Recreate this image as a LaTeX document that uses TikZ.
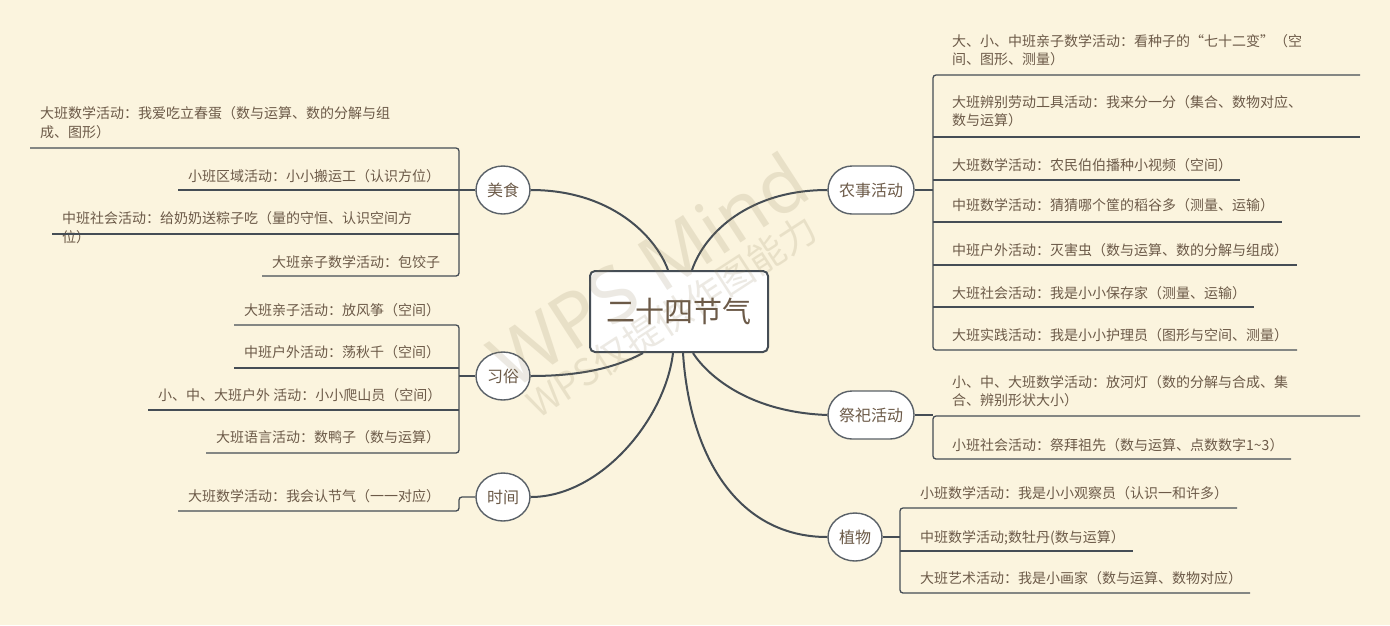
\documentclass[tikz,border=0pt]{standalone}
\usepackage{fontspec}
\setmainfont{Noto Sans CJK SC}
\newfontfamily\wmfont{Noto Sans}
\usetikzlibrary{shapes.geometric}
\definecolor{bg}{HTML}{FBF4DE}
\definecolor{ln}{HTML}{454D55}
\definecolor{tx}{HTML}{6C5A48}
\definecolor{bd}{HTML}{5A6168}
\definecolor{wm}{HTML}{8B7B55}
\begin{document}
\begin{tikzpicture}[x=1pt,y=-1pt,
 leaf/.style={anchor=base west, inner sep=0pt, text=tx, font=\fontsize{14}{19}\selectfont, align=left},
 rleaf/.style={leaf, font=\fontsize{14}{18}\selectfont},
 branch/.style={draw=ln, line width=1.3pt, rounded corners=3pt},
 curve/.style={draw=ln, line width=2pt},
 topic/.style={draw=bd, line width=1.4pt, fill=white, text=tx, font=\fontsize{16}{19}\selectfont, minimum height=48pt, inner sep=0pt},
 pill/.style={topic, rectangle, rounded corners=24pt, minimum width=86pt},
 oval/.style={topic, ellipse, minimum width=54pt},
 wmark/.style={rotate=33, anchor=base west, inner sep=0pt, text=wm, text opacity=0.16},
]
\fill[bg] (0,0) rectangle (1390,625);

% ---- central topic
\node[draw=ln, line width=2pt, fill=white, rounded corners=5pt, minimum width=178pt, minimum height=81pt, inner sep=0pt, text=tx, font=\fontsize{29}{34}\selectfont] (c) at (679,311.5) {二十四节气};

% ---- main topics
\node[oval] (ms) at (503,190) {美食};
\node[oval] (xs) at (503,376) {习俗};
\node[oval] (sj) at (503,497) {时间};
\node[pill] (ns) at (871,190) {农事活动};
\node[pill] (js) at (871,415) {祭祀活动};
\node[oval] (zw) at (855,537) {植物};

% ---- curves
\draw[curve] ([xshift=-11pt]c.north) .. controls (655,235) and (610,190) .. (ms.east);
\draw[curve] ([xshift=13pt]c.north) .. controls (705,232) and (750,190) .. (ns.west);
\draw[curve] ([xshift=-36pt]c.south) .. controls (615,368) and (580,376) .. (xs.east);
\draw[curve] ([xshift=-6pt]c.south) .. controls (665,420) and (600,497) .. (sj.east);
\draw[curve] ([xshift=14pt]c.south) .. controls (705,372) and (745,412) .. (js.west);
\draw[curve] ([xshift=4pt]c.south) .. controls (690,460) and (740,537) .. (zw.west);

% ---- 美食 (multi-line nodes are placed by the baseline of their last line)
\node[leaf] (m1) at (40,137) {大班数学活动：我爱吃立春蛋（数与运算、数的分解与组\\成、图形）};
\node[leaf] (m2) at (188,181) {小班区域活动：小小搬运工（认识方位）};
\node[leaf] (m3) at (62,242) {中班社会活动：给奶奶送粽子吃（量的守恒、认识空间方\\位）};
\node[leaf] (m4) at (272,267) {大班亲子数学活动：包饺子};
\coordinate (msx) at (459,0);
\coordinate (m1u) at (30,148);
\coordinate (m2u) at (178,190);
\coordinate (m3u) at (52,234);
\coordinate (m4u) at (262,276);
\draw[branch] (m1u) -| (msx |- m4u) -- (m4u);
\draw[branch] (m2u) -- (m2u -| msx);
\draw[branch] (m3u) -- (m3u -| msx);
\draw[branch] (ms.west) -- (ms.west -| msx);

% ---- 习俗
\node[leaf] (x1) at (244,315) {大班亲子活动：放风筝（空间）};
\node[leaf] (x2) at (244,357) {中班户外活动：荡秋千（空间）};
\node[leaf] (x3) at (158,400) {小、中、大班户外 活动：小小爬山员（空间）};
\node[leaf] (x4) at (216,442) {大班语言活动：数鸭子（数与运算）};
\coordinate (xsx) at (459,0);
\coordinate (x1u) at (234,325);
\coordinate (x2u) at (234,368);
\coordinate (x3u) at (148,410);
\coordinate (x4u) at (206,453);
\draw[branch] (x1u) -| (xsx |- x4u) -- (x4u);
\draw[branch] (x2u) -- (x2u -| xsx);
\draw[branch] (x3u) -- (x3u -| xsx);
\draw[branch] (xs.west) -- (xs.west -| xsx);

% ---- 时间
\node[leaf] (t1) at (188,501.5) {大班数学活动：我会认节气（一一对应）};
\coordinate (t1u) at (178,511);
\draw[branch] (t1u) -| (xsx |- sj.west) -- (sj.west);

% ---- 农事活动
\node[rleaf] (n1) at (952,64) {大、小、中班亲子数学活动：看种子的“七十二变”（空\\间、图形、测量）};
\node[rleaf] (n2) at (952,125) {大班辨别劳动工具活动：我来分一分（集合、数物对应、\\数与运算）};
\node[rleaf] (n3) at (952,170) {大班数学活动：农民伯伯播种小视频（空间）};
\node[rleaf] (n4) at (952,210) {中班数学活动：猜猜哪个筐的稻谷多（测量、运输）};
\node[rleaf] (n5) at (952,255) {中班户外活动：灭害虫（数与运算、数的分解与组成）};
\node[rleaf] (n6) at (952,298) {大班社会活动：我是小小保存家（测量、运输）};
\node[rleaf] (n7) at (952,340) {大班实践活动：我是小小护理员（图形与空间、测量）};
\coordinate (nsx) at (933,0);
\coordinate (n1u) at (1360,75);
\coordinate (n2u) at (1360,137);
\coordinate (n3u) at (1240,180);
\coordinate (n4u) at (1282,222);
\coordinate (n5u) at (1297,265);
\coordinate (n6u) at (1254,307);
\coordinate (n7u) at (1297,350);
\draw[branch] (n1u) -| (nsx |- n7u) -- (n7u);
\draw[branch] (n2u -| nsx) -- (n2u);
\draw[branch] (n3u -| nsx) -- (n3u);
\draw[branch] (n4u -| nsx) -- (n4u);
\draw[branch] (n5u -| nsx) -- (n5u);
\draw[branch] (n6u -| nsx) -- (n6u);
\draw[branch] (ns.east) -- (ns.east -| nsx);

% ---- 祭祀活动
\node[rleaf] (j1) at (952,405) {小、中、大班数学活动：放河灯（数的分解与合成、集\\合、辨别形状大小）};
\node[rleaf] (j2) at (952,450) {小班社会活动：祭拜祖先（数与运算、点数数字1\textasciitilde3）};
\coordinate (j1u) at (1360,416);
\coordinate (j2u) at (1291,459);
\draw[branch] (j1u) -| (nsx |- j2u) -- (j2u);
\draw[branch] (js.east) -- (js.east -| nsx);

% ---- 植物
\node[rleaf] (z1) at (920,498) {小班数学活动：我是小小观察员（认识一和许多）};
\node[rleaf] (z2) at (920,542) {中班数学活动;数牡丹(数与运算）};
\node[rleaf] (z3) at (920,583) {大班艺术活动：我是小画家（数与运算、数物对应）};
\coordinate (zwx) at (900,0);
\coordinate (z1u) at (1237,508);
\coordinate (z2u) at (1133,551);
\coordinate (z3u) at (1250,593);
\draw[branch] (z1u) -| (zwx |- z3u) -- (z3u);
\draw[branch] (z2u -| zwx) -- (z2u);
\draw[branch] (zw.east) -- (zw.east -| zwx);

% ---- watermark
\node[wmark, font=\wmfont\fontsize{76}{80}\selectfont] (wm1) at (512,392) {WPS Mind};
\node[wmark, font=\fontsize{37}{40}\selectfont] (wm2) at (538,420) {WPS仅提供作图能力};
\end{tikzpicture}
\end{document}
